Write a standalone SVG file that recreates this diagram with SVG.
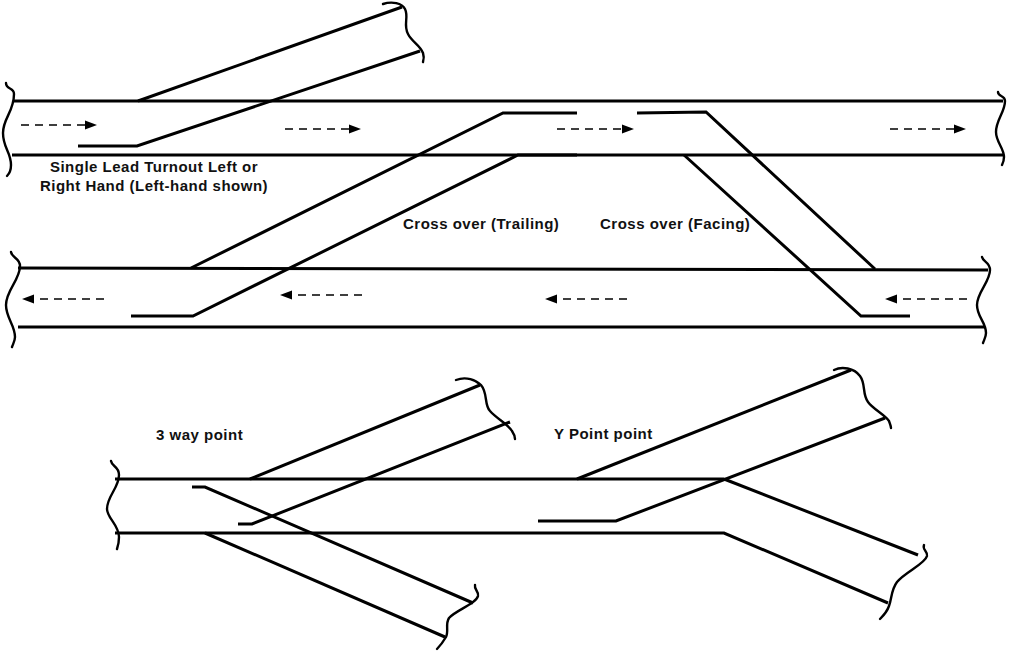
<svg xmlns="http://www.w3.org/2000/svg" width="1009" height="651" viewBox="0 0 1009 651">
<style>
.t{fill:none;stroke:#000;stroke-width:3;stroke-linejoin:miter}
.s{fill:none;stroke:#000;stroke-width:2.4;stroke-linecap:round}
.d{fill:none;stroke:#000;stroke-width:1.5;stroke-dasharray:8 6}
.h{fill:#000;stroke:none}
text{font-family:"Liberation Sans",Arial,sans-serif;font-size:15px;letter-spacing:.5px;font-weight:bold;fill:#111}
</style>
<rect width="1009" height="651" fill="#fff"/>
<g id="connectors">
<path class="t" d="M13 101H1003M12 155H1003"/>
<path class="t" d="M138 101L402 7"/>
<path class="t" d="M78 146H137L420 51"/>
<path class="t" d="M577 113H503L191 268"/>
<path class="t" d="M577 155H518L193 316H131"/>
<path class="t" d="M637 113L706 112L875 269"/>
<path class="t" d="M684 155L861 316H910"/>
<path class="t" d="M18 268L988 270M18 327H985"/>
<path class="t" d="M115 479H724M115 533H722"/>
<path class="t" d="M250 479L480 385"/>
<path class="t" d="M238 524H252L510 422"/>
<path class="t" d="M192 487H205L473 603"/>
<path class="t" d="M205 533L445 637"/>
<path class="t" d="M577 479L851 370"/>
<path class="t" d="M538 521H616L885 418"/>
<path class="t" d="M724 479L918 555"/>
<path class="t" d="M722 533H724L888 603"/>
</g>
<g id="breaks">
<path class="s" d="M6 83C6 90 14 87 14 94C14 112 3 118 3 133C3 148 11 152 11 165C11 170 10 173 7 176"/>
<path class="s" d="M383 4C392 1 402 3 405 9C409 17 403 25 408 34C412 42 420 45 423 53C424 56 424 59 423 62"/>
<path class="s" d="M998 92C998 97 1005 95 1005 101C1005 112 996 120 996 132C996 142 1004 148 1004 157C1004 160 1003 163 1002 165"/>
<path class="s" d="M11 252C12 258 20 258 20 266C20 280 6 290 6 305C6 318 15 325 15 337C15 341 13 344 12 347"/>
<path class="s" d="M982 257C983 262 990 262 990 270C990 282 977 292 977 305C977 317 986 322 986 333C986 337 984 340 983 343"/>
<path class="s" d="M111 461C112 467 119 466 119 475C119 488 107 496 107 509C107 518 119 525 119 537C119 542 118 546 117 549"/>
<path class="s" d="M456 380C466 376 476 380 481 385C488 393 484 405 490 411C497 419 508 424 512 431C514 434 515 436 515 439"/>
<path class="s" d="M475 585C474 590 479 591 478 596C476 604 456 610 449 618C445 624 449 631 446 637C443 642 440 646 437 649"/>
<path class="s" d="M834 370C842 366 854 368 860 376C866 384 862 394 868 402C873 409 885 415 889 421C890 424 891 426 891 428"/>
<path class="s" d="M924 545C922 550 928 551 927 556C925 564 905 572 897 582C891 590 892 598 889 606C887 612 883 616 880 619"/>
</g>
<g id="arrows">
<path class="d" d="M21 125H87"/><path class="h" d="M85 120.500L97 125L85 129.500Z"/>
<path class="d" d="M285 129H351"/><path class="h" d="M349 124.500L361 129L349 133.500Z"/>
<path class="d" d="M557 129H624"/><path class="h" d="M622 124.500L634 129L622 133.500Z"/>
<path class="d" d="M890 129H956"/><path class="h" d="M954 124.500L966 129L954 133.500Z"/>
<path class="d" d="M104 299H32"/><path class="h" d="M34 294.500L22 299L34 303.500Z"/>
<path class="d" d="M362 295H290"/><path class="h" d="M292 290.500L280 295L292 299.500Z"/>
<path class="d" d="M627 299H555"/><path class="h" d="M557 294.500L545 299L557 303.500Z"/>
<path class="d" d="M967 299H895"/><path class="h" d="M897 294.500L885 299L897 303.500Z"/>
</g>
<g id="label-single-lead">
<text x="154" y="172" text-anchor="middle">Single Lead Turnout Left or</text>
<text x="154" y="191" text-anchor="middle">Right Hand (Left-hand shown)</text>
</g>
<g id="label-trailing"><text x="403" y="229">Cross over (Trailing)</text></g>
<g id="label-facing"><text x="600" y="229">Cross over (Facing)</text></g>
<g id="label-3way"><text x="156" y="440">3 way point</text></g>
<g id="label-y"><text x="554" y="439">Y Point point</text></g>
</svg>
